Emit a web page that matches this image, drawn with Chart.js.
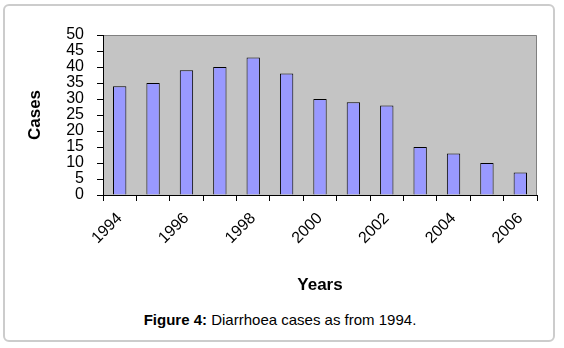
<!DOCTYPE html>
<html>
<head>
<meta charset="utf-8">
<script src="https://cdn.jsdelivr.net/npm/chart.js@4/dist/chart.umd.min.js"></script>
<style>
  body { margin: 0; background: #fff; }
  #wrap { position: relative; width: 564px; height: 348px; overflow: hidden; }
  #frame {
    position: absolute; left: 3px; top: 4px; width: 552px; height: 338px;
    box-sizing: border-box; border: 2px solid #cccccc; border-radius: 6px;
  }
  #chart { position: absolute; left: 0; top: 0; }
  #caption {
    position: absolute; left: 0; width: 560px; top: 311px; text-align: center;
    font-family: "Liberation Sans", Arial, sans-serif; font-size: 15px; color: #000;
  }
</style>
</head>
<body>
<div id="wrap">
  <div id="frame"></div>
  <canvas id="chart" width="564" height="300"></canvas>
  <div id="caption"><b>Figure 4:</b> Diarrhoea cases as from 1994.</div>
</div>
<script>
const years = ['1994', '1995', '1996', '1997', '1998', '1999', '2000',
  '2001', '2002', '2003', '2004', '2005', '2006'];
const cases = [34, 35, 39, 40, 43, 38, 30, 29, 28, 15, 13, 10, 7];
const yTicks = [0, 5, 10, 15, 20, 25, 30, 35, 40, 45, 50];

const FONT = '"Liberation Sans", Arial, sans-serif';

// gray plot area with a gray frame on top/right, like the old Excel charts
const plotBackground = {
  id: 'plotBackground',
  beforeDraw(chart) {
    const { ctx, chartArea: a } = chart;
    ctx.save();
    ctx.fillStyle = '#c4c4c4';
    ctx.fillRect(a.left, a.top, a.right - a.left, a.bottom - a.top);
    ctx.strokeStyle = '#808080';
    ctx.lineWidth = 1;
    ctx.beginPath();
    ctx.moveTo(a.left, a.top + 0.5);
    ctx.lineTo(a.right - 0.5, a.top + 0.5);
    ctx.lineTo(a.right - 0.5, a.bottom);
    ctx.stroke();
    ctx.restore();
  }
};

new Chart(document.getElementById('chart'), {
  type: 'bar',
  data: {
    labels: years,
    datasets: [{
      data: cases,
      backgroundColor: '#9999ff',
      borderColor: '#000',
      borderWidth: 1,
      barPercentage: 0.4,
      categoryPercentage: 1
    }]
  },
  options: {
    responsive: false,
    animation: false,
    devicePixelRatio: 1,
    layout: { padding: { left: 10, top: 35, right: 27, bottom: 0 } },
    plugins: { legend: { display: false }, tooltip: { enabled: false } },
    scales: {
      x: {
        afterFit(scale) { scale.height = 105; },
        border: { color: '#000', width: 1 },
        grid: { drawOnChartArea: false, drawTicks: true, tickLength: 6, color: '#000', offset: true },
        ticks: {
          autoSkip: false,
          minRotation: 45,
          maxRotation: 45,
          padding: 8,
          color: '#000',
          font: { family: FONT, size: 16 },
          callback: (v, i) => (i % 2 === 0 ? years[i] : '')
        },
        title: {
          display: true,
          text: 'Years',
          color: '#000',
          font: { family: FONT, size: 17, weight: 'bold' },
          padding: { top: 0, bottom: 4 }
        }
      },
      y: {
        min: 0,
        max: 50,
        afterFit(scale) { scale.width = 93; },
        afterBuildTicks(scale) { scale.ticks = yTicks.map(v => ({ value: v })); },
        border: { color: '#000', width: 1 },
        grid: { drawOnChartArea: false, drawTicks: true, tickLength: 6, color: '#000' },
        ticks: {
          autoSkip: false,
          padding: 13,
          color: '#000',
          font: { family: FONT, size: 16 }
        },
        title: {
          display: true,
          text: 'Cases',
          color: '#000',
          font: { family: FONT, size: 17, weight: 'bold' },
          padding: { top: 15, bottom: 0 }
        }
      }
    }
  },
  plugins: [plotBackground]
});
</script>
</body>
</html>
